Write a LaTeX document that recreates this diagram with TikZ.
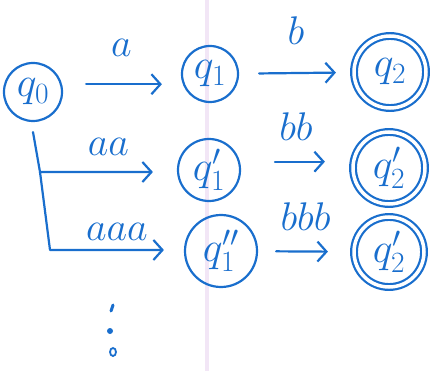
\RequirePackage{fix-cm}
\documentclass[tikz,border=0pt]{standalone}
\usepackage{amsmath}
\usepackage{tikz}
\usetikzlibrary{arrows.meta}

\definecolor{ink}{RGB}{25,110,205}
\definecolor{pageline}{RGB}{242,230,246}

\begin{document}
\begin{tikzpicture}[x=1pt, y=-1pt,
  state/.style={draw=ink, text=ink, circle, line width=2.2pt, inner sep=0pt,
    font=\fontsize{42}{48}\selectfont},
  accept/.style={state, double=white, double distance=3.5pt},
  arr/.style={draw=ink, line width=2.2pt, line cap=round, line join=round,
    -{Straight Barb[length=9pt,width=20pt,line width=2.2pt]}},
  lbl/.style={text=ink, font=\fontsize{40}{46}\selectfont, inner sep=1pt}]

\useasboundingbox (0,0) rectangle (446,371);

% page crease behind the drawing
\draw[pageline, line width=3.5pt] (207,0) -- (207,371);

% States
\node[state, minimum size=58pt] (q0) at (33,92) {$q_0$};
\node[state, minimum size=56pt] (q1) at (210,74) {$q_1$};
\node[accept, minimum size=72pt] (q2) at (390,72) {$q_2$};

\node[state, minimum size=62pt] (q1p) at (209,170) {$q_1'$};
\node[accept, minimum size=72pt] (q2p) at (389,168) {$q_2'$};

\node[state, minimum size=72pt] (q1pp) at (221,251) {$q_1''$};
\node[accept, minimum size=70pt] (q2pp) at (389,252) {$q_2'$};

% Branch corners
\coordinate (br1) at (40,172);
\coordinate (br2) at (50,250);

% Top row
\draw[arr, shorten <=24pt, shorten >=19pt] (q0.15) -- (q0.15 -| q1.west)
  node[lbl, midway, above=26pt] (la) {$a$};
\draw[arr, shorten <=20pt, shorten >=17pt] (q1) -- (q2)
  node[lbl, midway, above=26pt] (lb) {$b$};

% Second row
\draw[arr, shorten >=24pt] ([yshift=-10pt]q0.south) -- (br1) -- (br1 -| q1p.west)
  node[lbl, midway, above=14pt] (laa) {$aa$};
\draw[arr, shorten <=35pt, shorten >=27pt] (q1p.15) -- (q1p.15 -| q2p.west)
  node[lbl, midway, above=19pt] (lbb) {$bb$};

% Third row
\draw[arr, shorten >=20pt] (br1) -- (br2) -- (br2 -| q1pp.west)
  node[lbl, midway, above=7pt] (laaa) {$aaa$};
\draw[arr, shorten <=18pt, shorten >=25pt] (q1pp) -- (q2pp)
  node[lbl, midway, above=19pt] (lbbb) {$bbb$};

% Dots
\draw[ink, line width=3pt, line cap=round] (111,311) -- (113,305);
\fill[ink] (110,331) circle (3pt);
\draw[ink, line width=1.8pt] (113,352) ellipse (3pt and 4pt);

\end{tikzpicture}
\end{document}
